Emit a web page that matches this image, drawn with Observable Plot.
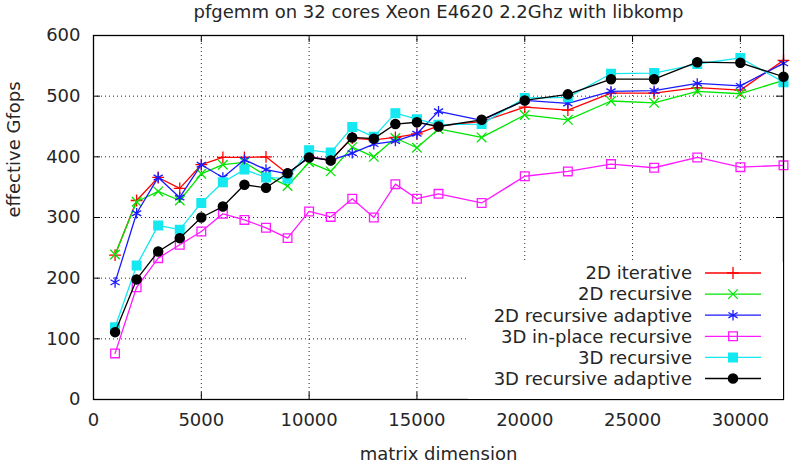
<!DOCTYPE html>
<html>
<head>
<meta charset="utf-8">
<script src="https://cdn.jsdelivr.net/npm/d3@7"></script>
<script src="https://cdn.jsdelivr.net/npm/@observablehq/plot@0.6"></script>
<style>
  body { margin: 0; background: #fff; }
  #chart svg { display: block; }
</style>
</head>
<body>
<div id="chart"></div>
<script>
// Matrix sizes benchmarked
const sizes = [1000, 2000, 3000, 4000, 5000, 6000, 7000, 8000, 9000, 10000, 11000, 12000,
               13000, 14000, 15000, 16000, 18000, 20000, 22000, 24000, 26000, 28000, 30000, 32000];

// Effective Gflops per variant
const iterative2d        = [238, 328, 366, 348, 387, 399, 399, 400, 372, 400, 395, 431, 428, 432, 438, 451, 458, 482, 477, 505, 505, 514, 510, 559];
const recursive2d        = [239, 326, 343, 328, 372, 387, 391, 369, 352, 391, 376, 416, 400, 431, 415, 446, 432, 469, 461, 492, 489, 508, 504, 526];
const recursiveAdaptive2d = [193, 307, 366, 333, 387, 366, 395, 379, 372, 400, 394, 406, 421, 426, 438, 475, 460, 493, 488, 508, 509, 521, 517, 554];
const inPlaceRecursive3d = [76, 185, 233, 255, 277, 306, 296, 283, 266, 310, 301, 331, 300, 355, 331, 339, 324, 368, 376, 388, 382, 399, 383, 386];
const recursive3d        = [119, 221, 287, 280, 324, 358, 379, 366, 364, 411, 407, 449, 433, 472, 462, 453, 454, 497, 498, 537, 538, 553, 563, 523];
const recursiveAdaptive3d = [111, 198, 244, 266, 300, 318, 354, 349, 373, 399, 394, 432, 430, 454, 457, 450, 461, 493, 503, 528, 528, 556, 555, 532];

// Axis ticks
const xTicks = [0, 5000, 10000, 15000, 20000, 25000, 30000];
const yTicks = [0, 100, 200, 300, 400, 500, 600];
const xGrid = [5000, 10000, 15000, 20000, 25000, 30000];
const yGrid = [100, 200, 300, 400, 500];

const titleText = "pfgemm on 32 cores Xeon E4620 2.2Ghz with libkomp";
const xLabel = "matrix dimension";
const yLabel = "effective Gfops";

const series = [
  {name: "2D iterative",            values: iterative2d,         color: "#ff0000", symbol: "plus",     r: 3.9, filled: false},
  {name: "2D recursive",            values: recursive2d,         color: "#00e600", symbol: "times",    r: 4.4, filled: false},
  {name: "2D recursive adaptive",   values: recursiveAdaptive2d, color: "#1a1aff", symbol: "asterisk", r: 5.0, filled: false},
  {name: "3D in-place recursive",   values: inPlaceRecursive3d,  color: "#ff1aff", symbol: "square",   r: 4.9, filled: false},
  {name: "3D recursive",            values: recursive3d,         color: "#14e8f0", symbol: "square",   r: 4.9, filled: true},
  {name: "3D recursive adaptive",   values: recursiveAdaptive3d, color: "#000000", symbol: "circle",   r: 4.6, filled: true}
];

const rows = series.flatMap(s => sizes.map((n, i) => ({series: s.name, n, gflops: s.values[i]})));

const W = 792, H = 467;
const margin = {top: 35, right: 9, bottom: 68, left: 93};
const frameW = W - margin.left - margin.right;
const frameH = H - margin.top - margin.bottom;
const tickLen = 7;
const font = "DejaVu Sans, sans-serif";
const fontSize = 18;
const ink = "#262626";

const seriesMarks = series.flatMap(s => {
  const data = rows.filter(d => d.series === s.name);
  return [
    Plot.line(data, {x: "n", y: "gflops", stroke: s.color, strokeWidth: 1.3}),
    Plot.dot(data, {
      x: "n", y: "gflops", symbol: () => s.symbol, r: s.r,
      stroke: s.color, strokeWidth: 1.3,
      fill: s.filled ? s.color : "none"
    })
  ];
});

const svg = Plot.plot({
  width: W,
  height: H,
  marginTop: margin.top,
  marginRight: margin.right,
  marginBottom: margin.bottom,
  marginLeft: margin.left,
  style: {fontFamily: font, fontSize: `${fontSize}px`, color: ink, background: "#fff", overflow: "hidden"},
  x: {domain: [0, 32000]},
  y: {domain: [0, 600]},
  symbol: {type: "identity"},
  marks: [
    Plot.gridX(xGrid, {stroke: "#000", strokeOpacity: 0.85, strokeDasharray: "1,3", strokeWidth: 1}),
    Plot.gridY(yGrid, {stroke: "#000", strokeOpacity: 0.85, strokeDasharray: "1,3", strokeWidth: 1}),
    ...seriesMarks,
    // inward tick marks on all four sides
    Plot.tickX(xTicks, {x: d => d, insetTop: frameH - tickLen, stroke: "#000", ariaLabel: "border-tick"}),
    Plot.tickX(xTicks, {x: d => d, insetBottom: frameH - tickLen, stroke: "#000"}),
    Plot.tickY(yTicks, {y: d => d, insetRight: frameW - tickLen, stroke: "#000"}),
    Plot.tickY(yTicks, {y: d => d, insetLeft: frameW - tickLen, stroke: "#000"}),
    Plot.frame({stroke: "#000", strokeWidth: 1.3}),
    Plot.axisX(xTicks, {tickSize: 0, tickPadding: 14, tickFormat: d => String(d), label: null, fill: ink, fontSize}),
    Plot.axisY(yTicks, {tickSize: 0, tickPadding: 13, tickFormat: d => String(d), label: null, fill: ink, fontSize}),
    Plot.text([titleText], {text: d => d, frameAnchor: "top", dy: -30, fill: ink, fontSize}),
    Plot.text([xLabel], {text: d => d, frameAnchor: "bottom", dy: 60, fill: ink, fontSize}),
    Plot.text([yLabel], {text: d => d, frameAnchor: "left", dx: -79, rotate: -90, fill: ink, fontSize})
  ]
});

// Key: opaque box in the lower right, above the grid and below the border ticks
const symbolTypes = {plus: d3.symbolPlus, times: d3.symbolTimes, asterisk: d3.symbolAsterisk, square: d3.symbolSquare, circle: d3.symbolCircle};
const ns = "http://www.w3.org/2000/svg";
const key = document.createElementNS(ns, "g");
const frameRight = W - margin.right;
const frameBottom = H - margin.bottom;
const keyBox = {x: 468, y: 262};
const box = document.createElementNS(ns, "rect");
box.setAttribute("x", keyBox.x);
box.setAttribute("y", keyBox.y);
box.setAttribute("width", frameRight - keyBox.x);
box.setAttribute("height", frameBottom - keyBox.y);
box.setAttribute("fill", "#fff");
key.appendChild(box);
const textRight = 692, lineX1 = 705, lineX2 = 761, rowY0 = 273, rowStep = 21.1;
series.forEach((s, i) => {
  const y = rowY0 + i * rowStep;
  const t = document.createElementNS(ns, "text");
  t.setAttribute("x", textRight);
  t.setAttribute("y", y);
  t.setAttribute("dy", "0.35em");
  t.setAttribute("text-anchor", "end");
  t.setAttribute("fill", ink);
  t.setAttribute("font-size", fontSize);
  t.textContent = s.name;
  key.appendChild(t);
  const l = document.createElementNS(ns, "line");
  l.setAttribute("x1", lineX1); l.setAttribute("x2", lineX2);
  l.setAttribute("y1", y); l.setAttribute("y2", y);
  l.setAttribute("stroke", s.color);
  l.setAttribute("stroke-width", 1.3);
  key.appendChild(l);
  const p = document.createElementNS(ns, "path");
  p.setAttribute("d", d3.symbol(symbolTypes[s.symbol], Math.PI * s.r * s.r)());
  p.setAttribute("transform", `translate(${(lineX1 + lineX2) / 2},${y})`);
  p.setAttribute("stroke", s.color);
  p.setAttribute("stroke-width", 1.3);
  p.setAttribute("fill", s.filled ? s.color : "none");
  key.appendChild(p);
});
const anchor = svg.querySelector('[aria-label="border-tick"]');
svg.insertBefore(key, anchor);

document.getElementById("chart").appendChild(svg);
</script>
</body>
</html>
